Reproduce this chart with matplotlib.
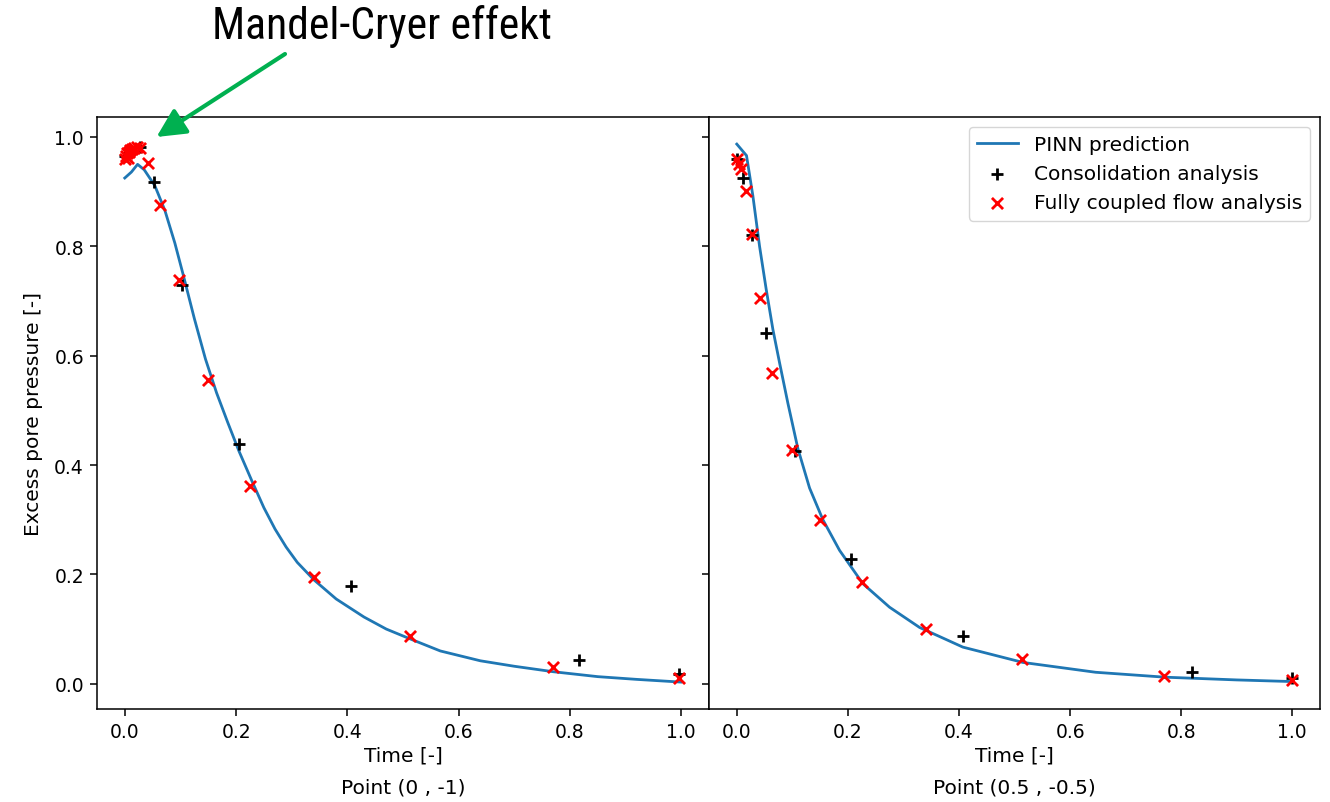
import matplotlib.pyplot as plt

# === DATA ===
# Point (0 , -1)
pinn_t_left = [0.0, 0.012, 0.023, 0.035, 0.054, 0.072, 0.090, 0.105, 0.125, 0.145,
               0.165, 0.185, 0.205, 0.228, 0.25, 0.27, 0.29, 0.31, 0.340, 0.38, 0.430,
               0.47, 0.513, 0.567, 0.639, 0.70, 0.770, 0.85, 0.92, 1.0]
pinn_v_left = [0.925, 0.936, 0.950, 0.940, 0.911, 0.866, 0.806, 0.748, 0.668, 0.594,
               0.532, 0.478, 0.426, 0.372, 0.322, 0.283, 0.250, 0.222, 0.190, 0.155, 0.122,
               0.100, 0.082, 0.060, 0.042, 0.032, 0.022, 0.013, 0.008, 0.003]
cons_t_left = [0.0, 0.01, 0.028, 0.052, 0.102, 0.206, 0.406, 0.816, 0.996]
cons_v_left = [0.965, 0.975, 0.982, 0.917, 0.730, 0.439, 0.178, 0.044, 0.018]
flow_t_left = [0.0, 0.002, 0.004, 0.006, 0.008, 0.010, 0.013, 0.017, 0.022, 0.027,
               0.041, 0.064, 0.098, 0.150, 0.225, 0.340, 0.513, 0.769, 0.996]
flow_v_left = [0.960, 0.966, 0.970, 0.962, 0.973, 0.976, 0.978, 0.980, 0.982, 0.980,
               0.952, 0.875, 0.739, 0.556, 0.361, 0.196, 0.088, 0.031, 0.011]

# Point (0.5 , -0.5)
pinn_t_right = [0.0, 0.0175, 0.029, 0.041, 0.053, 0.065, 0.077, 0.092, 0.110, 0.131,
                0.155, 0.185, 0.227, 0.275, 0.329, 0.407, 0.515, 0.646, 0.771, 0.90, 1.0]
pinn_v_right = [0.987, 0.966, 0.892, 0.800, 0.721, 0.648, 0.587, 0.513, 0.430, 0.358,
                0.300, 0.244, 0.183, 0.140, 0.103, 0.067, 0.039, 0.021, 0.012, 0.007, 0.004]
cons_t_right = [0.0, 0.011, 0.027, 0.052, 0.104, 0.205, 0.408, 0.819, 1.0]
cons_v_right = [0.960, 0.925, 0.820, 0.642, 0.426, 0.229, 0.088, 0.022, 0.010]
flow_t_right = [0.0, 0.004, 0.008, 0.016, 0.027, 0.041, 0.064, 0.099, 0.149, 0.226,
                0.341, 0.513, 0.770, 0.999]
flow_v_right = [0.960, 0.950, 0.941, 0.901, 0.822, 0.705, 0.568, 0.428, 0.299, 0.187,
                0.100, 0.045, 0.015, 0.006]

panel_titles = ["Point (0 , -1)", "Point (0.5 , -0.5)"]

# === PLOT ===
plt.rcParams.update({
    "font.size": 14.5,
    "xtick.labelsize": 13.5,
    "ytick.labelsize": 13.5,
    "axes.linewidth": 1.1,
    "xtick.major.width": 1.1,
    "ytick.major.width": 1.1,
    "xtick.major.size": 4.7,
    "ytick.major.size": 4.7,
    "xtick.major.pad": 4.7,
    "ytick.major.pad": 4.7,
})
fig = plt.figure(figsize=(13.3, 8.03), dpi=100)
ax1 = fig.add_axes([0.0729, 0.1158, 0.4602, 0.737])
ax2 = fig.add_axes([0.5331, 0.1158, 0.4594, 0.737], sharey=ax1)

panels = [
    (ax1, pinn_t_left, pinn_v_left, cons_t_left, cons_v_left, flow_t_left, flow_v_left),
    (ax2, pinn_t_right, pinn_v_right, cons_t_right, cons_v_right, flow_t_right, flow_v_right),
]
for (ax, pt, pv, ct, cv, ft, fv), name in zip(panels, panel_titles):
    ax.plot(pt, pv, color="#1f77b4", lw=2.0, label="PINN prediction")
    ax.scatter(ct, cv, marker="+", color="black", s=64, linewidths=2.0,
               label="Consolidation analysis", zorder=3)
    ax.scatter(ft, fv, marker="x", color="red", s=64, linewidths=2.0,
               label="Fully coupled flow analysis", zorder=3)
    ax.set_xlabel("Time [-]", labelpad=3)
    bb = ax.get_position()
    fig.text((bb.x0 + bb.x1) / 2, 1 - 788 / 803, name, ha="center", va="center")

ax1.set_ylabel("Excess pore pressure [-]", labelpad=8)
ax2.tick_params(axis="y", labelleft=False)
ax2.legend(loc="upper right")

# Mandel-Cryer annotation
fig.text(382 / 1330, 1 - 27 / 803, "Mandel-Cryer effekt", ha="center", va="center",
         fontsize=31.5, family=["Roboto Condensed", "Roboto", "DejaVu Sans"])
ax1.annotate("", xy=(0.057, 1.0), xycoords="data",
             xytext=(285 / 1330, 1 - 55 / 803), textcoords="figure fraction",
             arrowprops=dict(arrowstyle="-|>,head_length=1.2,head_width=0.6",
                             color="#00b050", lw=3, shrinkA=0, shrinkB=0))

fig.savefig("out.png", dpi=100)
plt.close(fig)
